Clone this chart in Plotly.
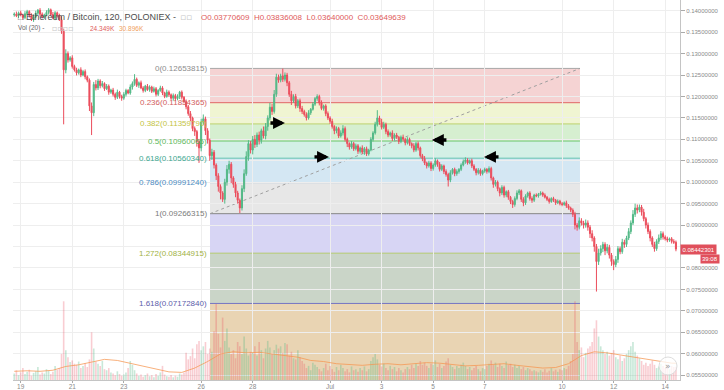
import pandas as pd
import plotly.graph_objects as go

# ---------------- data (prices in units of 0.0001 BTC, volume in K) ----------------
first_open = 1390
close = [
    1392, 1388, 1395,
    1390, 1384, 1393, 1398, 1389, 1380, 1386, 1394, 1401, 1392, 1385, 1390,
    1396, 1402, 1391, 1383, 1395, 1388, 1379, 1352, 1262, 1300, 1285, 1290,
    1270, 1262, 1255, 1262, 1250, 1258, 1246, 1238, 1178, 1162, 1228, 1220,
    1236, 1225, 1230, 1218, 1224, 1210, 1215, 1205, 1198, 1210, 1200, 1196,
    1205, 1214, 1208, 1222, 1230, 1240, 1226, 1232, 1220, 1214, 1224, 1216,
    1222, 1212, 1218, 1205, 1214, 1220, 1208, 1200, 1210, 1204, 1196, 1202,
    1195, 1200, 1210, 1198, 1188, 1176, 1160, 1150, 1125, 1118, 1095, 1080,
    1140, 1148, 1120, 1098, 1062, 1070, 1040, 1015, 990, 975, 960, 1000,
    1030, 1042, 1010, 995, 975, 958, 940, 985, 1020, 1060, 1090, 1075,
    1100, 1088, 1110, 1098, 1120, 1108, 1130, 1150, 1175, 1165, 1205, 1245,
    1238, 1248, 1240, 1250, 1232, 1205, 1190, 1200, 1178, 1190, 1172, 1165,
    1158, 1150, 1162, 1170, 1182, 1195, 1200, 1185, 1172, 1178, 1160, 1150,
    1142, 1130, 1120, 1125, 1108, 1115, 1125, 1100, 1090, 1082, 1090, 1078,
    1085, 1072, 1080, 1070, 1078, 1066, 1075, 1100, 1115, 1135, 1150, 1140,
    1128, 1135, 1118, 1110, 1115, 1102, 1110, 1105, 1095, 1105, 1100, 1092,
    1100, 1090, 1085, 1075, 1090, 1080, 1062, 1055, 1045, 1038, 1045, 1032,
    1040, 1050, 1042, 1030, 1038, 1025, 1018, 1005, 1022, 1030, 1020, 1025,
    1030, 1040, 1048, 1052, 1045, 1050, 1038, 1030, 1022, 1028, 1020, 1026,
    1030, 1025, 1032, 1010, 995, 1000, 985, 975, 988, 970, 978, 965,
    955, 948, 962, 975, 980, 960, 952, 968, 975, 962, 958, 970,
    968, 972, 975, 970, 965, 960, 955, 962, 958, 952, 956, 950,
    948, 952, 945, 940, 935, 925, 900, 895, 910, 905, 900, 905,
    895, 880, 870, 850, 815, 835, 845, 855, 840, 848, 830, 815,
    808, 820, 845, 838, 860, 855, 870, 885, 905, 925, 940, 935,
    942, 930, 915, 900, 885, 870, 855, 845, 862, 870, 880, 872,
    868, 865, 868, 862, 860, 844,
]
upper_wick = [
    4, 6, 3,
    5, 3, 6, 4, 3, 5, 4, 6, 3, 5, 4, 3,
    5, 4, 3, 6, 4, 3, 5, 8, 6, 10, 5, 4,
    6, 4, 5, 3, 6, 4, 5, 3, 4, 8, 6, 10,
    5, 4, 6, 3, 5, 4, 3, 5, 4, 6, 3, 4,
    5, 4, 3, 6, 5, 12, 4, 3, 5, 4, 3, 5,
    4, 3, 5, 4, 3, 5, 4, 3, 6, 4, 3, 5,
    4, 5, 3, 4, 3, 5, 4, 6, 3, 5, 4, 6,
    8, 10, 5, 6, 4, 8, 5, 4, 6, 5, 4, 8,
    10, 8, 5, 4, 6, 5, 4, 8, 10, 12, 8, 6,
    8, 10, 6, 8, 5, 10, 8, 6, 10, 8, 10, 8,
    6, 5, 17, 6, 5, 4, 8, 5, 6, 4, 5, 6,
    4, 5, 6, 3, 5, 4, 5, 4, 6, 3, 4, 5,
    4, 6, 3, 5, 4, 6, 8, 5, 4, 3, 6, 4,
    5, 4, 3, 6, 4, 5, 3, 5, 4, 6, 18, 5,
    8, 6, 4, 5, 3, 6, 4, 5, 3, 4, 6, 3,
    5, 4, 3, 6, 4, 5, 3, 4, 6, 3, 5, 4,
    4, 6, 3, 5, 4, 3, 5, 4, 6, 3, 4, 5,
    3, 4, 5, 6, 4, 3, 5, 4, 3, 5, 4, 3,
    4, 3, 5, 4, 3, 5, 4, 3, 5, 4, 3, 4,
    3, 4, 5, 6, 4, 3, 5, 4, 3, 4, 5, 3,
    4, 3, 4, 3, 4, 3, 4, 3, 4, 3, 4, 3,
    4, 3, 5, 4, 3, 4, 6, 5, 8, 6, 5, 8,
    6, 5, 8, 4, 6, 10, 8, 6, 5, 8, 6, 5,
    5, 8, 6, 5, 8, 6, 5, 8, 6, 10, 10, 8,
    6, 5, 8, 4, 6, 5, 4, 6, 5, 8, 6, 5,
    4, 5, 3, 4, 5, 4,
]
lower_wick = [
    4, 3, 5,
    3, 5, 4, 3, 5, 4, 6, 3, 4, 5, 3, 4,
    3, 5, 4, 3, 5, 4, 3, 6, 127, 8, 6, 4,
    5, 4, 6, 4, 5, 3, 6, 5, 12, 52, 8, 6,
    5, 6, 4, 5, 3, 6, 4, 5, 6, 4, 5, 6,
    4, 5, 3, 4, 6, 5, 4, 6, 3, 5, 4, 3,
    5, 4, 3, 5, 4, 3, 5, 4, 3, 5, 4, 6,
    5, 4, 6, 5, 4, 6, 5, 8, 6, 10, 12, 35,
    8, 6, 10, 8, 12, 10, 8, 10, 12, 15, 6, 10,
    8, 10, 12, 8, 10, 8, 12, 6, 8, 5, 10, 8,
    10, 8, 6, 10, 8, 6, 8, 10, 6, 8, 5, 6,
    6, 5, 6, 5, 8, 6, 10, 5, 6, 5, 8, 6,
    5, 6, 4, 5, 3, 4, 5, 6, 4, 5, 6, 5,
    6, 5, 8, 6, 5, 4, 6, 5, 8, 6, 4, 5,
    4, 6, 5, 4, 6, 5, 4, 3, 5, 4, 5, 6,
    5, 4, 6, 5, 4, 6, 5, 4, 6, 4, 5, 6,
    4, 5, 6, 5, 4, 6, 5, 6, 5, 6, 4, 6,
    5, 4, 6, 5, 4, 6, 5, 15, 5, 4, 6, 5,
    5, 4, 3, 5, 4, 3, 5, 4, 6, 4, 5, 4,
    4, 5, 4, 6, 8, 5, 6, 8, 5, 6, 5, 6,
    6, 8, 5, 4, 5, 6, 8, 5, 4, 5, 6, 4,
    3, 4, 3, 4, 3, 4, 5, 3, 4, 5, 3, 4,
    4, 3, 5, 4, 5, 6, 10, 8, 5, 6, 8, 6,
    8, 10, 8, 12, 70, 8, 6, 8, 10, 6, 8, 10,
    13, 6, 8, 6, 5, 8, 6, 5, 6, 5, 6, 8,
    5, 8, 6, 8, 6, 8, 6, 7, 5, 6, 5, 6,
    4, 5, 4, 5, 4, 5,
]
volume = [
    12, 18, 9,
    14, 22, 11, 15, 19, 8, 13, 16, 24, 10, 14, 12,
    20, 17, 11, 15, 26, 19, 22, 48, 145, 55, 42, 33,
    36, 30, 28, 34, 22, 26, 31, 24, 38, 88, 58, 34,
    30, 26, 35, 20, 18, 22, 14, 12, 9, 16, 11, 8,
    10, 14, 22, 35, 28, 18, 12, 8, 10, 6, 9, 12,
    7, 9, 5, 11, 8, 14, 26, 10, 7, 6, 9, 5,
    8, 6, 12, 10, 14, 50, 38, 44, 58, 40, 66, 72,
    55, 62, 70, 48, 58, 52, 90, 140, 85, 60, 115, 72,
    95, 60, 48, 55, 40, 70, 62, 48, 80, 58, 45, 52,
    50, 62, 45, 70, 55, 40, 58, 72, 60, 48, 55, 65,
    58, 62, 50, 68, 66, 45, 52, 40, 38, 55, 42, 35,
    30, 22, 26, 18, 32, 28, 24, 20, 16, 22, 30, 18,
    26, 20, 15, 24, 18, 28, 22, 16, 20, 14, 25, 18,
    20, 15, 22, 18, 25, 16, 20, 35, 42, 48, 38, 28,
    25, 30, 22, 18, 26, 20, 24, 16, 22, 18, 14, 20,
    24, 20, 28, 22, 30, 26, 35, 28, 32, 26, 22, 30,
    28, 36, 24, 30, 22, 26, 34, 40, 28, 24, 20, 26,
    22, 28, 32, 26, 20, 24, 18, 22, 26, 20, 16, 22,
    20, 26, 30, 36, 28, 32, 24, 30, 26, 22, 34, 28,
    30, 24, 28, 22, 26, 20, 24, 18, 22, 20, 16, 18,
    16, 14, 18, 15, 20, 14, 17, 22, 16, 19, 15, 20,
    18, 22, 20, 26, 35, 48, 145, 70, 55, 60, 42, 50,
    58, 62, 70, 95, 110, 80, 62, 55, 48, 52, 45, 50,
    55, 42, 38, 45, 35, 40, 48, 55, 62, 70, 52, 45,
    40, 35, 28, 32, 26, 30, 36, 28, 22, 25, 30, 26,
    22, 28, 20, 26, 24, 24.349,
]
# Vol MA(20), read every 6th bar, plus the last bar
volume_ma = [16, 17, 16, 18, 25, 28, 33, 38, 36, 31, 26, 20, 15, 14, 22, 34, 48, 52,
             50, 51, 48, 46, 42, 36, 34, 30, 28, 27, 29, 30, 28, 30, 32, 31, 28, 26,
             27, 29, 30, 27, 24, 22, 23, 30, 45, 52, 50, 46, 42, 38, 34, 31, 30.896]

fib_ratios = [0, 0.236, 0.382, 0.5, 0.618, 0.786, 1, 1.272, 1.618, 2.618]
fib_prices = [0.12653815, 0.11854365, 0.11359790, 0.10960065, 0.10560340,
              0.09991240, 0.09266315, 0.08344915, 0.07172840, 0.03785483]
fib_start = "2017-06-26 08:15"
fib_end = "2017-07-10 16:40"

arrow_dates = ["2017-06-29 06:00", "2017-06-30 23:00", "2017-07-04 22:50", "2017-07-06 23:20"]
arrow_prices = [0.1138, 0.1059, 0.10985, 0.1059]
arrow_dirs = [1, 1, -1, -1]

tick_dates = ["2017-06-19", "2017-06-21", "2017-06-23", "2017-06-26", "2017-06-28", "2017-07-01",
              "2017-07-03", "2017-07-05", "2017-07-07", "2017-07-10", "2017-07-12", "2017-07-14"]
tick_labels = ["19", "21", "23", "26", "28", "Jul", "3", "5", "7", "10", "12", "14"]
# 0.085 is hidden behind the last-price tag in the original
price_ticks = [0.055, 0.06, 0.065, 0.07, 0.075, 0.08, 0.09, 0.095, 0.10,
               0.105, 0.11, 0.115, 0.12, 0.125, 0.13, 0.135, 0.14]
grid_prices = [0.085]
last_price = 0.08442301
header_ohlc = ["0.03770609", "0.03836008", "0.03640000", "0.03649639"]

# ---------------- build ----------------
SCALE = 1e-4
t = pd.date_range("2017-06-18 18:00", periods=len(close), freq="2h")
c = [v * SCALE for v in close]
o = [first_open * SCALE] + c[:-1]
h = [max(a, b) + w * SCALE for a, b, w in zip(o, c, upper_wick)]
lo = [min(a, b) - w * SCALE for a, b, w in zip(o, c, lower_wick)]

UP = "#53b987"
DN = "#eb4d5c"
vol_colors = ["rgba(83,185,135,0.32)" if b >= a else "rgba(235,77,92,0.28)" for a, b in zip(o, c)]
ma_t = list(t[::6]) + [t[-1]]

fig = go.Figure()
fig.add_trace(go.Bar(x=t, y=volume, yaxis="y2", marker=dict(color=vol_colors, line=dict(width=0)),
                     hoverinfo="skip", showlegend=False))
fig.add_trace(go.Candlestick(x=t, open=o, high=h, low=lo, close=c,
                             increasing=dict(line=dict(color=UP, width=1), fillcolor=UP),
                             decreasing=dict(line=dict(color=DN, width=1), fillcolor=DN),
                             showlegend=False))
fig.add_trace(go.Scatter(x=ma_t, y=volume_ma, yaxis="y2", mode="lines",
                         line=dict(color="rgba(245,150,80,0.75)", width=1),
                         hoverinfo="skip", showlegend=False))

band_colors = ["#f5d3d3", "#f0f5d2", "#d6efd0", "#d3f0e6", "#d4e7f3", "#e7e7e7",
               "#d7d5f4", "#cad5c8", "#e9d4b3"]
line_colors = ["#a8a8a8", "#e06464", "#bcd26c", "#72c872", "#62c2b0", "#6298c8",
               "#858585", "#b2c870", "#7474c2"]
label_colors = ["#8c8c8c", "#d25c5c", "#c4c444", "#5cb85c", "#3ca890", "#4c8cc2",
                "#7a7a7a", "#a2b244", "#5c5caa"]

shapes = []
annotations = []
for gp in grid_prices:
    shapes.append(dict(type="line", xref="paper", yref="y", x0=0, x1=1, y0=gp, y1=gp,
                       line=dict(color="#eeeeee", width=1), layer="below"))
for k in range(len(fib_prices) - 1):
    shapes.append(dict(type="rect", xref="x", yref="y", x0=fib_start, x1=fib_end,
                       y0=fib_prices[k], y1=fib_prices[k + 1], fillcolor=band_colors[k],
                       line=dict(width=0), layer="below"))
for k in range(len(fib_prices) - 1):
    shapes.append(dict(type="line", xref="x", yref="y", x0=fib_start, x1=fib_end,
                       y0=fib_prices[k], y1=fib_prices[k], line=dict(color=line_colors[k], width=1),
                       layer="below"))
    annotations.append(dict(x=fib_start, y=fib_prices[k], xref="x", yref="y",
                            text=f"{fib_ratios[k]}({fib_prices[k]:.8f})", showarrow=False,
                            xanchor="right", yanchor="middle", xshift=-1,
                            font=dict(family="Liberation Sans", size=8, color=label_colors[k])))
shapes.append(dict(type="line", xref="x", yref="y", x0=fib_start, x1=fib_end,
                   y0=fib_prices[6], y1=fib_prices[0],
                   line=dict(color="#a0a0a0", width=1, dash="3px,3px"), layer="below"))

for d, p, s in zip(arrow_dates, arrow_prices, arrow_dirs):
    annotations.append(dict(x=d, y=p, xref="x", yref="y", text="", showarrow=True,
                            ax=-16 * s, ay=0, arrowhead=2, arrowsize=0.7, arrowwidth=3.4,
                            arrowcolor="#000000"))

W, H = 724, 390
ML, MR, MT, MB = 13, 44, 0, 10
PW, PH = W - ML - MR, H - MT - MB


def px(xp):
    return (xp - ML) / PW


def py(yp):
    return (H - MB - yp) / PH


hdr = "Liberation Sans"
annotations += [
    dict(xref="paper", yref="paper", x=px(16), y=py(17), xanchor="left", yanchor="middle",
         showarrow=False, text="□ Ethereum / Bitcoin, 120, POLONIEX -",
         font=dict(family=hdr, size=9, color="#4d4d4d")),
    dict(xref="paper", yref="paper", x=px(178), y=py(17), xanchor="left", yanchor="middle",
         showarrow=False, text="▫▫", font=dict(family="DejaVu Sans", size=9, color="#c8c8c8")),
    dict(xref="paper", yref="paper", x=px(199), y=py(17), xanchor="left", yanchor="middle",
         showarrow=False,
         text=(f"O<span style='color:#e05a5a'>{header_ohlc[0]}</span>  "
               f"H<span style='color:#e05a5a'>{header_ohlc[1]}</span>  "
               f"L<span style='color:#e05a5a'>{header_ohlc[2]}</span>  "
               f"C<span style='color:#e05a5a'>{header_ohlc[3]}</span>"),
         font=dict(family=hdr, size=8, color="#e05a5a")),
    dict(xref="paper", yref="paper", x=px(16), y=py(28), xanchor="left", yanchor="middle",
         showarrow=False, text="Vol (20) -", font=dict(family=hdr, size=6.5, color="#666666")),
    dict(xref="paper", yref="paper", x=px(50), y=py(28), xanchor="left", yanchor="middle",
         showarrow=False, text="▫▫▫▫", font=dict(family="DejaVu Sans", size=8, color="#c8c8c8")),
    dict(xref="paper", yref="paper", x=px(88), y=py(28), xanchor="left", yanchor="middle",
         showarrow=False, text=f"{volume[-1]:.3f}K", font=dict(family=hdr, size=6.5, color="#e05a5a")),
    dict(xref="paper", yref="paper", x=px(117), y=py(28), xanchor="left", yanchor="middle",
         showarrow=False, text=f"{volume_ma[-1]:.3f}K", font=dict(family=hdr, size=6.5, color="#f0a060")),
    dict(xref="paper", yref="y", x=1, y=last_price, xanchor="left", yanchor="middle",
         showarrow=False, text=f"{last_price:.8f}", bgcolor="#e0505c", borderpad=1.5,
         font=dict(family=hdr, size=6, color="#ffffff")),
    dict(xref="paper", yref="y", x=px(720), y=last_price, xanchor="right", yanchor="middle",
         yshift=-10, showarrow=False, text="39:08", bgcolor="#e0505c", borderpad=1,
         font=dict(family=hdr, size=6, color="#ffffff")),
    dict(xref="paper", yref="paper", x=px(668), y=py(366), xanchor="center", yanchor="middle",
         showarrow=False, text="»", font=dict(family="DejaVu Sans", size=9, color="#999999")),
]
shapes.append(dict(type="circle", xref="paper", yref="paper", x0=px(659), x1=px(677),
                   y0=py(375), y1=py(357), line=dict(color="#dddddd", width=1),
                   fillcolor="rgba(255,255,255,0.75)", layer="above"))

fig.update_layout(
    width=W, height=H, margin=dict(l=ML, r=MR, t=MT, b=MB, autoexpand=False),
    paper_bgcolor="#ffffff", plot_bgcolor="#ffffff",
    bargap=0.25, showlegend=False, hovermode=False,
    shapes=shapes, annotations=annotations,
    xaxis=dict(type="date", range=["2017-06-18 16:50", "2017-07-14 13:47"], automargin=False,
               tickvals=tick_dates, ticktext=tick_labels, showgrid=True, gridcolor="#eeeeee",
               gridwidth=1, ticks="outside", ticklen=2, tickcolor="#aaaaaa",
               showline=True, linecolor="#c4c4c4", linewidth=1, ticklabelstandoff=-2,
               tickfont=dict(family=hdr, size=6.5, color="#8a8a8a"),
               rangeslider=dict(visible=False), zeroline=False),
    yaxis=dict(side="right", range=[0.053874, 0.142495], tickvals=price_ticks, tickformat=".8f",
               automargin=False,
               showgrid=True, gridcolor="#eeeeee", gridwidth=1, ticks="outside", ticklen=4,
               tickcolor="#aaaaaa", showline=True, linecolor="#c4c4c4", linewidth=1,
               tickfont=dict(family=hdr, size=6, color="#8a8a8a"), zeroline=False),
    yaxis2=dict(overlaying="y", range=[0, 700], visible=False, fixedrange=True),
)

fig.write_html("out.html", config={"displayModeBar": False},
               post_script="document.body.style.margin='0';document.body.style.overflow='hidden';")
